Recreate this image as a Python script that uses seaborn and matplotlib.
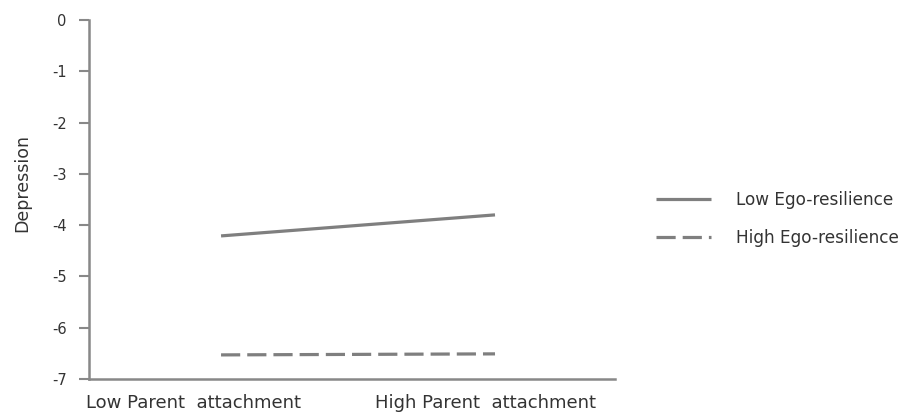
import matplotlib
matplotlib.use("Agg")
import matplotlib.pyplot as plt
import seaborn as sns
import pandas as pd

# Simple slopes: depression by parent attachment, split by ego-resilience
categories = ["Low Parent  attachment", "High Parent  attachment"]
low_ego_resilience = [-4.21, -3.80]
high_ego_resilience = [-6.53, -6.51]
series_names = ["Low Ego-resilience", "High Ego-resilience"]
y_ticks = [0, -1, -2, -3, -4, -5, -6, -7]

df = pd.DataFrame({
    "attachment": categories * 2,
    "Depression": low_ego_resilience + high_ego_resilience,
    "group": [series_names[0]] * 2 + [series_names[1]] * 2,
})

sns.set_style("white", {"ytick.left": True})
plt.rcParams["font.family"] = ["DejaVu Sans"]
plt.rcParams["axes.unicode_minus"] = False

W, H = 909, 419
fig = plt.figure(figsize=(W / 100, H / 100), dpi=100)
ax = fig.add_axes([89 / W, 1 - 379 / H, (615 - 89) / W, (379 - 20) / H])

line_color = "#7f7f7f"
text_color = "#333333"

sns.lineplot(
    data=df, x="attachment", y="Depression", hue="group", style="group",
    palette=[line_color, line_color], dashes=[(1, 0), (6, 2.2)],
    linewidth=2.3, markers=False, ax=ax, legend=True,
)

ax.set_xlim(-0.482, 1.438)
ax.set_ylim(-7, 0)
ax.set_yticks(y_ticks)
ax.set_yticklabels([str(v) for v in y_ticks], fontsize=10.5, color=text_color)

# Category labels sit slightly left of the plotted points
ax.set_xticks([-0.102, 0.967])
ax.set_xticklabels(categories, fontsize=13, color=text_color)
ax.tick_params(axis="x", length=0, pad=11)
ax.tick_params(axis="y", length=7, width=1.5, color="#888888", direction="out",
               pad=9, left=True)

ax.set_xlabel("")
ax.set_ylabel("Depression", fontsize=12.5, color=text_color)
ax.yaxis.set_label_coords(-58 / (615 - 89), (379 - 183) / (379 - 20))

for side in ["top", "right"]:
    ax.spines[side].set_visible(False)
for side in ["left", "bottom"]:
    ax.spines[side].set_color("#888888")
    ax.spines[side].set_linewidth(1.8)

handles, labels = ax.get_legend_handles_labels()
ax.get_legend().remove()
leg = fig.legend(
    handles, labels, loc="center left", bbox_to_anchor=(641 / W, 1 - 219 / H),
    frameon=False, fontsize=12.2, handlelength=3.25, handletextpad=1.45,
    labelspacing=1.2, labelcolor=text_color,
)

fig.savefig("out.png", dpi=100)
